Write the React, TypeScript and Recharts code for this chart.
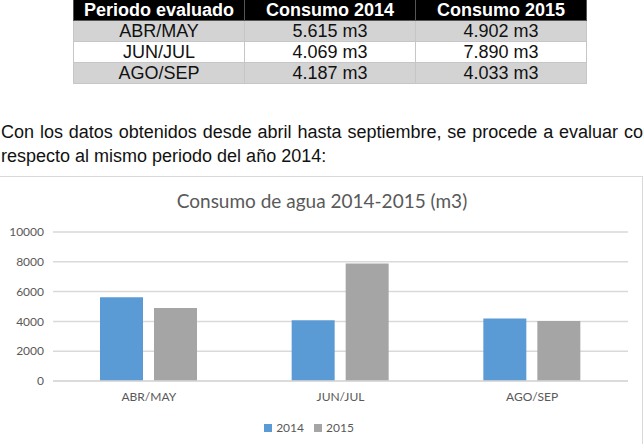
import React from "react";
import {
  BarChart,
  Bar,
  XAxis,
  YAxis,
  CartesianGrid,
  Legend,
} from "recharts";

// Water consumption per two-month period (m3)
const periods = ["ABR/MAY", "JUN/JUL", "AGO/SEP"];
const consumo2014 = [5615, 4069, 4187];
const consumo2015 = [4902, 7890, 4033];
const tableHeaders = ["Periodo evaluado", "Consumo 2014", "Consumo 2015"];
const labels2014 = ["5.615 m3", "4.069 m3", "4.187 m3"];
const labels2015 = ["4.902 m3", "7.890 m3", "4.033 m3"];
const yTicks = [0, 2000, 4000, 6000, 8000, 10000];

const chartData = periods.map((p, i) => ({
  periodo: p,
  "2014": consumo2014[i],
  "2015": consumo2015[i],
}));

const TEXT_GREY = "#595959";
const GRID = "#d9d9d9";
const chartFont = "Lato, 'Open Sans', sans-serif";

const cellBase: React.CSSProperties = {
  height: 20,
  padding: 0,
  textAlign: "center",
  border: "1px solid #c6c6c6",
  fontSize: 18,
  lineHeight: "20px",
  width: 170,
};

export default function App() {
  return (
    <div
      style={{
        position: "absolute",
        left: 0,
        top: 0,
        width: 644,
        height: 444,
        overflow: "hidden",
        background: "#fff",
        fontFamily: "'Liberation Sans', Arial, sans-serif",
      }}
    >
      <table
        style={{
          position: "absolute",
          left: 73,
          top: -1,
          width: 511,
          borderCollapse: "collapse",
          tableLayout: "fixed",
        }}
      >
        <thead>
          <tr>
            {tableHeaders.map((h) => (
              <th
                key={h}
                style={{
                  ...cellBase,
                  background: "#000",
                  color: "#fff",
                  fontWeight: "bold",
                  borderColor: "#555",
                }}
              >
                {h}
              </th>
            ))}
          </tr>
        </thead>
        <tbody>
          {periods.map((p, i) => (
            <tr key={p} style={{ background: i % 2 === 0 ? "#d3d3d3" : "#fff" }}>
              <td style={{ ...cellBase, color: "#111" }}>{p}</td>
              <td style={{ ...cellBase, color: "#111" }}>{labels2014[i]}</td>
              <td style={{ ...cellBase, color: "#111" }}>{labels2015[i]}</td>
            </tr>
          ))}
        </tbody>
      </table>

      <div
        style={{
          position: "absolute",
          left: 1,
          top: 120,
          width: 652,
          fontSize: 18,
          lineHeight: "24px",
          color: "#111",
          whiteSpace: "nowrap",
        }}
      >
        <div style={{ display: "flex", justifyContent: "space-between" }}>
          {"Con los datos obtenidos desde abril hasta septiembre, se procede a evaluar con"
            .split(" ")
            .map((w, i) => (
              <span key={i}>{w}</span>
            ))}
        </div>
      </div>
      <div
        style={{
          position: "absolute",
          left: 1,
          top: 144,
          fontSize: 18,
          lineHeight: "24px",
          color: "#111",
          whiteSpace: "nowrap",
        }}
      >
        respecto al mismo periodo del año 2014:
      </div>

      <div
        style={{
          position: "absolute",
          left: -1,
          top: 176,
          width: 642,
          height: 300,
          border: `1px solid ${GRID}`,
        }}
      />

      <div
        style={{
          position: "absolute",
          left: 0,
          top: 189,
          width: 644,
          textAlign: "center",
          fontFamily: chartFont,
          fontSize: 19,
          color: TEXT_GREY,
        }}
      >
        Consumo de agua 2014-2015 (m3)
      </div>

      <div style={{ position: "absolute", left: 0, top: 176 }}>
        <BarChart
          width={644}
          height={268}
          data={chartData}
          margin={{ top: 56, right: 16, bottom: 9, left: 0 }}
          barGap={11}
          style={{ fontFamily: chartFont }}
        >
          <CartesianGrid vertical={false} stroke={GRID} strokeWidth={1.5} />
          <XAxis
            dataKey="periodo"
            axisLine={{ stroke: GRID, strokeWidth: 1.5 }}
            tickLine={false}
            tickMargin={5}
            height={35}
            tick={{ fill: TEXT_GREY, fontSize: 12 }}
          />
          <YAxis
            domain={[0, 10000]}
            ticks={yTicks}
            axisLine={false}
            tickLine={false}
            tickMargin={3}
            width={53}
            tick={{ fill: TEXT_GREY, fontSize: 12 }}
          />
          <Legend
            verticalAlign="bottom"
            iconType="square"
            iconSize={8}
            formatter={(value: string) => (
              <span style={{ color: TEXT_GREY, fontSize: 12 }}>{value}</span>
            )}
          />
          <Bar dataKey="2014" fill="#5b9bd5" barSize={43} isAnimationActive={false} />
          <Bar dataKey="2015" fill="#a5a5a5" barSize={43} isAnimationActive={false} />
        </BarChart>
      </div>
    </div>
  );
}
